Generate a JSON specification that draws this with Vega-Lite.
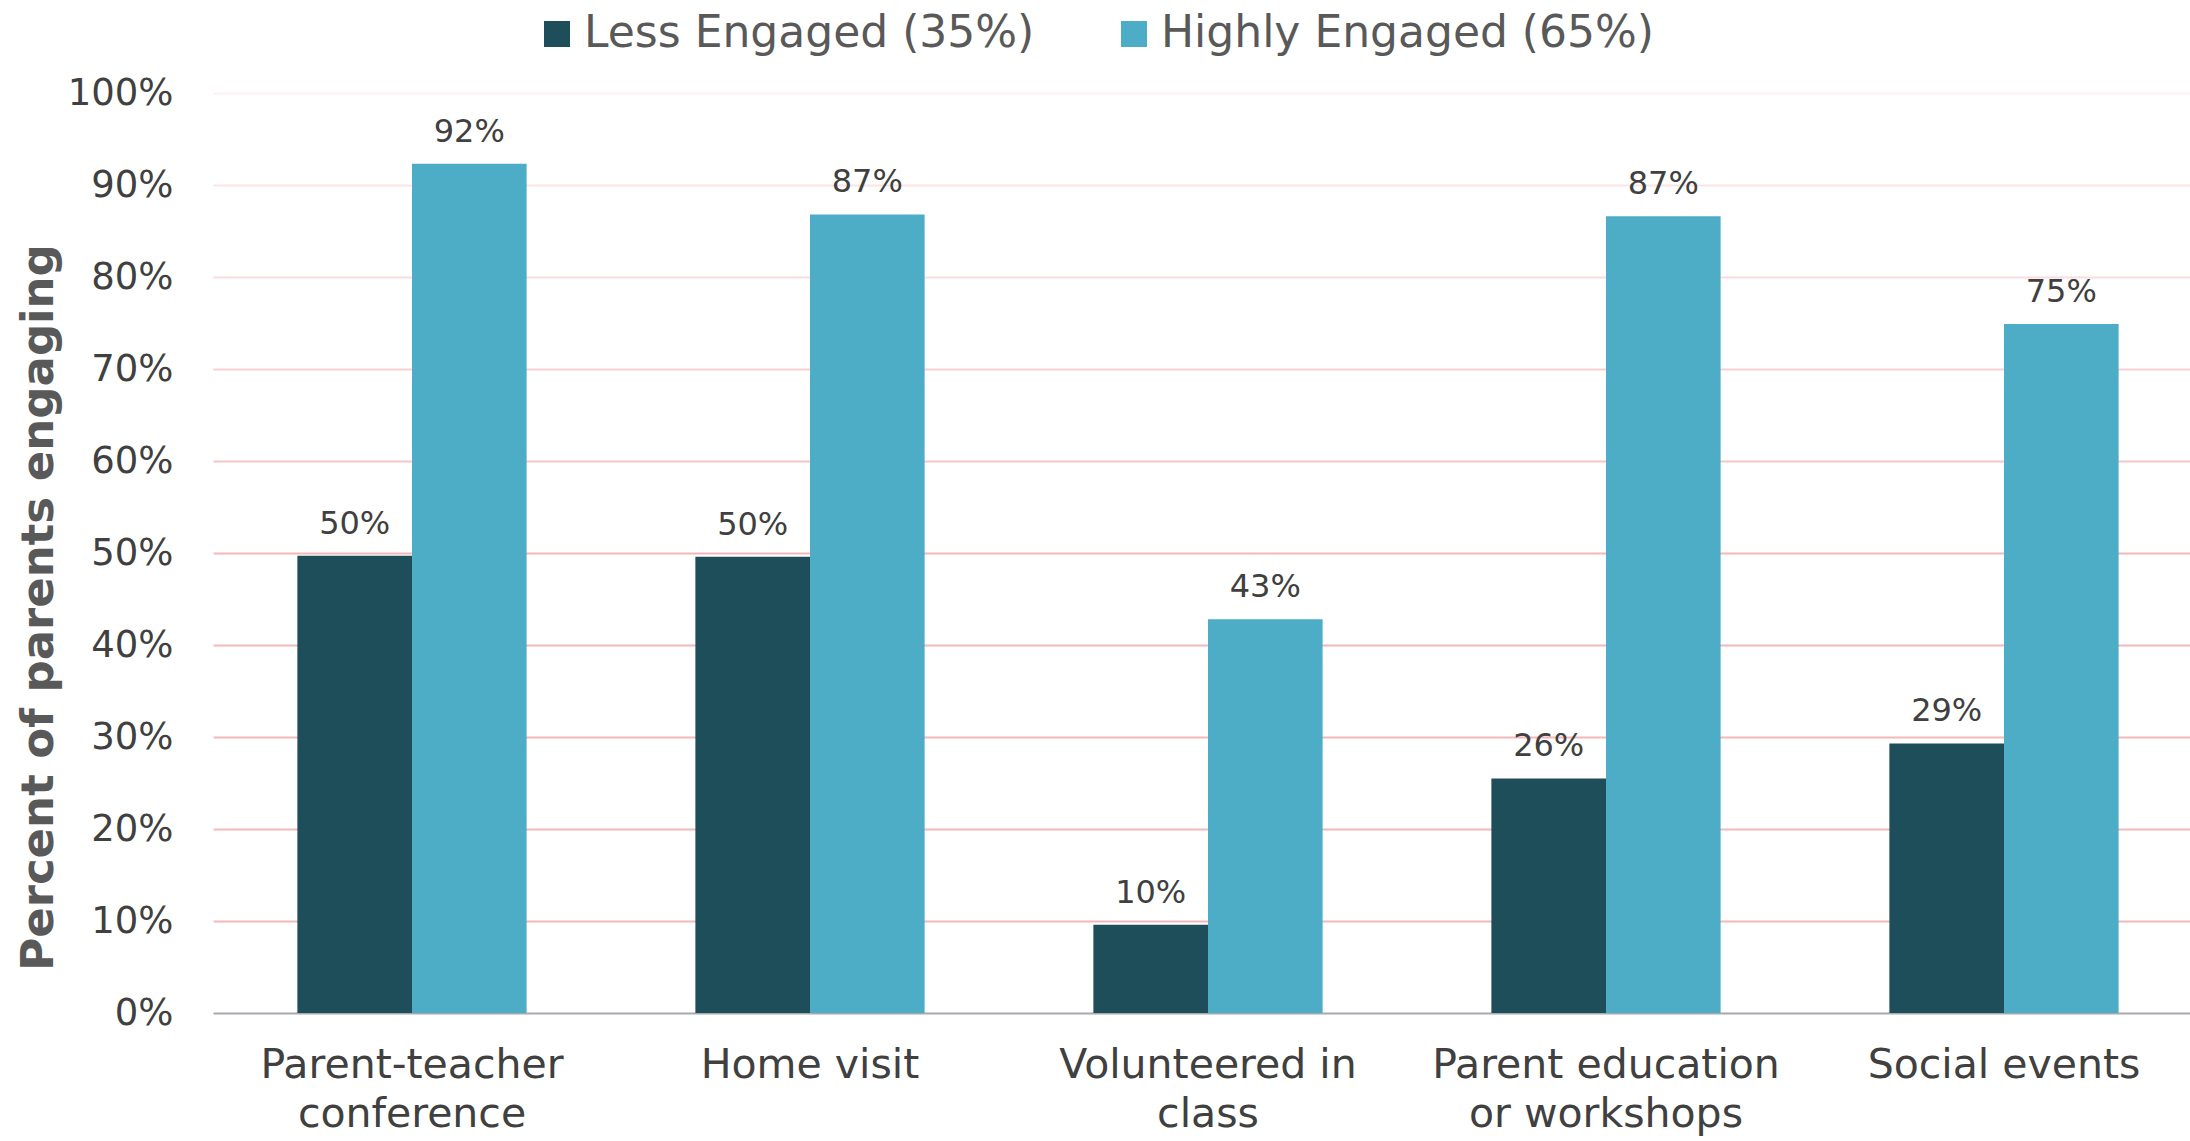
{
  "$schema": "https://vega.github.io/schema/vega-lite/v6.json",
  "width": 1977,
  "height": 920,
  "autosize": {"type": "none"},
  "padding": {"left": 213, "top": 93, "right": 0, "bottom": 128},
  "background": "white",
  "data": {
    "values": [
      {"activity": "Parent-teacher conference", "group": "Less Engaged (35%)", "share": 0.497},
      {"activity": "Parent-teacher conference", "group": "Highly Engaged (65%)", "share": 0.923},
      {"activity": "Home visit", "group": "Less Engaged (35%)", "share": 0.496},
      {"activity": "Home visit", "group": "Highly Engaged (65%)", "share": 0.868},
      {"activity": "Volunteered in class", "group": "Less Engaged (35%)", "share": 0.096},
      {"activity": "Volunteered in class", "group": "Highly Engaged (65%)", "share": 0.428},
      {"activity": "Parent education or workshops", "group": "Less Engaged (35%)", "share": 0.255},
      {"activity": "Parent education or workshops", "group": "Highly Engaged (65%)", "share": 0.866},
      {"activity": "Social events", "group": "Less Engaged (35%)", "share": 0.293},
      {"activity": "Social events", "group": "Highly Engaged (65%)", "share": 0.749}
    ]
  },
  "encoding": {
    "x": {
      "field": "activity",
      "type": "nominal",
      "sort": ["Parent-teacher conference", "Home visit", "Volunteered in class", "Parent education or workshops", "Social events"],
      "scale": {"range": [0, 1990], "paddingInner": 0.424, "paddingOuter": 0.212},
      "axis": {
        "title": null,
        "domain": false,
        "ticks": false,
        "labelAngle": 0,
        "labelFont": "DejaVu Sans",
        "labelFontSize": 41,
        "labelColor": "#404040",
        "labelPadding": 32,
        "labelLimit": 0,
        "labelLineHeight": 49,
        "labelExpr": "datum.value == 'Parent-teacher conference' ? ['Parent-teacher', 'conference'] : datum.value == 'Volunteered in class' ? ['Volunteered in', 'class'] : datum.value == 'Parent education or workshops' ? ['Parent education', 'or workshops'] : datum.value"
      }
    },
    "xOffset": {
      "field": "group",
      "type": "nominal",
      "sort": ["Less Engaged (35%)", "Highly Engaged (65%)"],
      "scale": {"paddingInner": 0, "paddingOuter": 0}
    },
    "y": {
      "field": "share",
      "type": "quantitative",
      "scale": {"domain": [0, 1]},
      "axis": {
        "title": "Percent of parents engaging",
        "titleFont": "DejaVu Sans",
        "titleFontWeight": "bold",
        "titleFontSize": 45,
        "titleColor": "#595959",
        "titleX": -175,
        "titleY": 514,
        "titleAngle": 270,
        "titleAlign": "center",
        "titleBaseline": "middle",
        "values": [0, 0.1, 0.2, 0.3, 0.4, 0.5, 0.6, 0.7, 0.8, 0.9, 1],
        "format": ".0%",
        "domain": false,
        "ticks": false,
        "labelFont": "DejaVu Sans",
        "labelFontSize": 37,
        "labelColor": "#404040",
        "labelPadding": 40,
        "labelBaseline": "middle",
        "grid": true,
        "gridWidth": 2,
        "gridColor": {
          "condition": [
            {"test": "datum.value < 0.05", "value": "#A6AAAF"},
            {"test": "datum.value > 0.95", "value": "#FDF0F1"},
            {"test": "datum.value > 0.85", "value": "#FCE4E5"},
            {"test": "datum.value > 0.75", "value": "#FADCDD"},
            {"test": "datum.value > 0.65", "value": "#F8D0D2"},
            {"test": "datum.value > 0.55", "value": "#F6C4C6"}
          ],
          "value": "#F4B8BA"
        }
      }
    }
  },
  "layer": [
    {
      "mark": {"type": "bar"},
      "encoding": {
        "color": {
          "field": "group",
          "type": "nominal",
          "sort": ["Less Engaged (35%)", "Highly Engaged (65%)"],
          "scale": {"domain": ["Less Engaged (35%)", "Highly Engaged (65%)"], "range": ["#1F4E5B", "#4EADC6"]},
          "legend": {
            "title": null,
            "orient": "none",
            "direction": "horizontal",
            "legendX": 322,
            "legendY": -81,
            "padding": 0,
            "symbolType": "square",
            "symbolSize": 676,
            "symbolStrokeWidth": 0,
            "symbolOpacity": 1,
            "labelFont": "DejaVu Sans",
            "labelFontSize": 44,
            "labelColor": "#595959",
            "labelOffset": 5,
            "labelLimit": 0,
            "columnPadding": 77
          }
        }
      }
    },
    {
      "mark": {"type": "text", "baseline": "alphabetic", "dy": -22, "font": "DejaVu Sans", "fontSize": 32, "color": "#404040"},
      "encoding": {
        "text": {"field": "share", "type": "quantitative", "format": ".0%"}
      }
    }
  ],
  "config": {"view": {"stroke": null}}
}
